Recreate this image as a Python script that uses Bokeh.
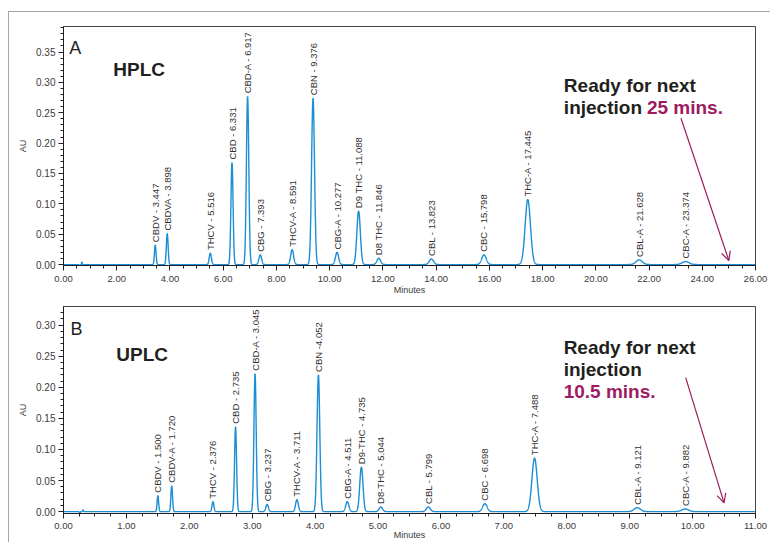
import numpy as np
from bokeh.plotting import figure
from bokeh.models import (ColumnDataSource, SingleIntervalTicker, PrintfTickFormatter,
                          Label, Arrow, OpenHead, Range1d, Spacer)
from bokeh.layouts import column, row
from bokeh.embed import file_html
from bokeh.resources import INLINE
from bokeh.core.properties import value

# ---------------- data: HPLC (panel A) ----------------
hplc_labels = ["CBDV - 3.447", "CBDVA - 3.898", "THCV - 5.516", "CBD - 6.331",
               "CBD-A - 6.917", "CBG - 7.393", "THCV-A - 8.591", "CBN - 9.376",
               "CBG-A - 10.277", "D9 THC - 11.088", "D8 THC - 11.846", "CBL - 13.823",
               "CBC - 15.798", "THC-A - 17.445", "CBL-A - 21.628", "CBC-A - 23.374"]
hplc_rt = [3.447, 3.898, 5.516, 6.331, 6.917, 7.393, 8.591, 9.376,
           10.277, 11.088, 11.846, 13.823, 15.798, 17.445, 21.628, 23.374]
hplc_au = [0.032, 0.051, 0.019, 0.168, 0.277, 0.016, 0.0245, 0.274,
           0.020, 0.088, 0.0105, 0.0093, 0.016, 0.107, 0.0077, 0.005]
hplc_sigma = [0.030, 0.033, 0.040, 0.040, 0.045, 0.050, 0.055, 0.055,
              0.060, 0.065, 0.070, 0.080, 0.085, 0.100, 0.120, 0.130]
hplc_blip_rt = [0.60, 0.69]
hplc_blip_au = [-0.003, 0.004]
hplc_ready = 25.0

# ---------------- data: UPLC (panel B) ----------------
uplc_labels = ["CBDV - 1.500", "CBDV-A - 1.720", "THCV - 2.376", "CBD - 2.735",
               "CBD-A - 3.045", "CBG - 3.237", "THCV-A - 3.711", "CBN -4.052",
               "CBG-A - 4.511", "D9-THC - 4.735", "D8-THC - 5.044", "CBL - 5.799",
               "CBC - 6.698", "THC-A - 7.488", "CBL-A - 9.121", "CBC-A - 9.882"]
uplc_rt = [1.500, 1.720, 2.376, 2.735, 3.045, 3.237, 3.711, 4.052,
           4.511, 4.735, 5.044, 5.799, 6.698, 7.488, 9.121, 9.882]
uplc_au = [0.0256, 0.0416, 0.016, 0.1365, 0.222, 0.0117, 0.0192, 0.220,
           0.016, 0.0715, 0.0075, 0.0075, 0.0128, 0.086, 0.0064, 0.0043]
uplc_sigma = [0.012, 0.013, 0.015, 0.016, 0.018, 0.020, 0.022, 0.022,
              0.025, 0.026, 0.028, 0.032, 0.035, 0.042, 0.050, 0.055]
uplc_blip_rt = [0.26, 0.31]
uplc_blip_au = [-0.003, 0.003]
uplc_ready = 10.5

FONT = "Liberation Sans"
TRACE = "#1b8ed6"
MAROON = "#9c1c5f"
INK = "#231f20"
FRAME_GRAY = "#a6a6a6"


def chromatogram(rt, au, sig, t_end, n):
    t = np.linspace(0.0, t_end, n)
    y = np.zeros_like(t)
    for r, h, s in zip(rt, au, sig):
        y += h * np.exp(-0.5 * ((t - r) / s) ** 2)
    return t, y


def panel(labels, rt, au, sig, blip_rt, blip_au, blip_sig, t_end, x_int, y_rng,
          height, borders, x_standoffs, letter, letter_xy, title, title_xy,
          ready_lines, ready_time, arrow_start, arrow_end_y):
    b_left, b_right, b_top, b_bottom = borders
    p = figure(width=761, height=height, output_backend="svg", toolbar_location=None,
               x_range=Range1d(0, t_end), y_range=Range1d(*y_rng),
               min_border_left=b_left, min_border_right=b_right,
               min_border_top=b_top, min_border_bottom=b_bottom)
    p.background_fill_color = "white"
    p.border_fill_color = "white"
    p.outline_line_color = "#444444"
    p.outline_line_width = 1
    p.grid.visible = False

    t, y = chromatogram(list(rt) + blip_rt, list(au) + blip_au,
                        list(sig) + [blip_sig] * len(blip_rt), t_end, 6000)
    p.line(t, y, line_color=TRACE, line_width=1.4)

    src = ColumnDataSource(dict(x=rt, y=au, text=labels))
    p.text(x="x", y="y", text="text", source=src, angle=np.pi / 2,
           text_align="left", text_baseline="middle", y_offset=-3,
           text_font=value(FONT), text_font_size=value("9.5px"), text_color="#333333")

    p.xaxis.ticker = SingleIntervalTicker(interval=x_int, num_minor_ticks=4)
    p.yaxis.ticker = SingleIntervalTicker(interval=0.05, num_minor_ticks=5)
    for ax in (p.xaxis, p.yaxis):
        ax.formatter = PrintfTickFormatter(format="%.2f")
        ax.axis_line_color = INK
        ax.major_tick_line_color = INK
        ax.minor_tick_line_color = INK
        ax.major_tick_in = 0
        ax.major_tick_out = 5
        ax.minor_tick_in = 0
        ax.minor_tick_out = 3
        ax.major_label_text_font = FONT
        ax.major_label_text_color = "#3a3a3a"
        ax.axis_label_text_font = FONT
        ax.axis_label_text_font_style = "normal"
        ax.axis_label_text_font_size = "9px"
        ax.axis_label_text_color = "#3a3a3a"
    p.xaxis.major_label_text_font_size = "9.5px"
    p.yaxis.major_label_text_font_size = "10px"
    p.xaxis.major_label_standoff = x_standoffs[0]
    p.xaxis.axis_label_standoff = x_standoffs[1]
    p.yaxis.major_label_standoff = 3
    p.yaxis.axis_label_standoff = 5
    p.xaxis.axis_label = "Minutes"
    p.yaxis.axis_label = "AU"

    p.add_layout(Label(x=letter_xy[0], y=letter_xy[1], text=letter, text_font=FONT,
                       text_font_size="18px", text_color=INK, text_baseline="alphabetic"))
    p.add_layout(Label(x=title_xy[0], y=title_xy[1], text=title, text_font=FONT,
                       text_font_size="19px", text_font_style="bold", text_color=INK,
                       text_baseline="alphabetic"))
    for (tx, ty, txt, col) in ready_lines:
        p.add_layout(Label(x=tx, y=ty, text=txt, text_font=FONT, text_font_size="19px",
                           text_font_style="bold", text_color=col,
                           text_baseline="alphabetic"))
    p.add_layout(Arrow(end=OpenHead(size=9, line_color=MAROON, line_width=1.2),
                       x_start=arrow_start[0], y_start=arrow_start[1],
                       x_end=ready_time, y_end=arrow_end_y,
                       line_color=MAROON, line_width=1.2))
    return p


pA = panel(hplc_labels, hplc_rt, hplc_au, hplc_sigma, hplc_blip_rt, hplc_blip_au, 0.015,
           26, 2, (-0.0015, 0.392), 285, (54, 13, 14, 30), (5, 0),
           "A", (0.22, 0.357), "HPLC", (1.87, 0.321),
           [(18.8, 0.295, "Ready for next", INK),
            (18.8, 0.259, "injection", INK),
            (21.92, 0.259, "25 mins.", MAROON)],
           hplc_ready, (23.2, 0.241), 0.0065)

pB = panel(uplc_labels, uplc_rt, uplc_au, uplc_sigma, uplc_blip_rt, uplc_blip_au, 0.007,
           11, 1, (-0.003, 0.33), 245, (53, 15, 9, 28), (4, -2),
           "B", (0.11, 0.294), "UPLC", (0.84, 0.252),
           [(7.95, 0.264, "Ready for next", INK),
            (7.95, 0.229, "injection", INK),
            (7.95, 0.1925, "10.5 mins.", MAROON)],
           uplc_ready, (9.89, 0.2155), 0.014)

plots = column(pA, pB, spacing=0)
left_rule = Spacer(width=1, height=530, styles={"background-color": FRAME_GRAY})
top_rule = Spacer(width=762, height=1, styles={"background-color": FRAME_GRAY})
framed = column(top_rule, row(left_rule, plots, spacing=0), spacing=0)
page = column(Spacer(width=770, height=11),
              row(Spacer(width=8, height=531), framed, spacing=0),
              spacing=0)

open("out.html", "w").write(file_html(page, INLINE))
